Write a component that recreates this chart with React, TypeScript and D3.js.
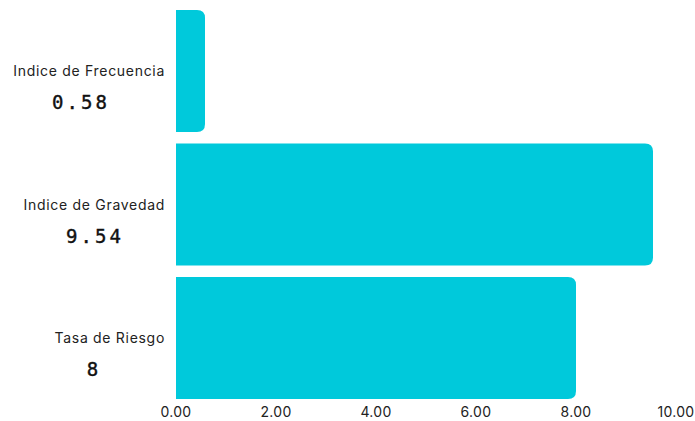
import React from "react";
import * as d3 from "d3";

const categories = ["Indice de Frecuencia", "Indice de Gravedad", "Tasa de Riesgo"];
const values = [0.58, 9.54, 8];
const valueLabels = ["0.58", "9.54", "8"];
const xTicks = [0, 2, 4, 6, 8, 10];

const W = 695;
const H = 421;

function barPath(x0: number, x1: number, y0: number, h: number, r: number) {
  const rr = Math.min(r, (x1 - x0) / 2, h / 2);
  return `M${x0},${y0}H${x1 - rr}Q${x1},${y0} ${x1},${y0 + rr}V${y0 + h - rr}Q${x1},${y0 + h} ${x1 - rr},${y0 + h}H${x0}Z`;
}

export default function App() {
  const x = d3.scaleLinear().domain([0, 10]).range([176, 676]);
  const y = d3.scaleBand<string>().domain(categories).range([10, 399]).paddingInner(0.085).paddingOuter(0);
  const bw = y.bandwidth();
  const valueX = [81, 95, 94];
  return (
    <svg width={W} height={H} style={{ position: "absolute", left: 0, top: 0 }}>
      <rect width={W} height={H} fill="#ffffff" />
      {categories.map((c, i) => {
        const y0 = y(c)!;
        const cy = y0 + bw / 2;
        return (
          <g key={c}>
            <path d={barPath(x(0), x(values[i]), y0, bw, 8)} fill="#00C9DB" />
            <text x={165} y={cy + 5} textAnchor="end" fontFamily="Inter, 'Noto Sans', sans-serif" fontSize={14} letterSpacing={0.7} fill="#222">
              {c}
            </text>
            <text x={valueX[i]} y={cy + 38} fontFamily="'DejaVu Sans Mono', monospace" fontSize={19} letterSpacing={3} fill="#111" stroke="#111" strokeWidth={0.4} textAnchor="middle">
              {valueLabels[i]}
            </text>
          </g>
        );
      })}
      {xTicks.map((t) => (
        <text key={t} x={x(t)} y={417} textAnchor="middle" fontFamily="Inter, 'Noto Sans', sans-serif" fontSize={14} letterSpacing={0.3} fill="#222">
          {t.toFixed(2)}
        </text>
      ))}
    </svg>
  );
}
